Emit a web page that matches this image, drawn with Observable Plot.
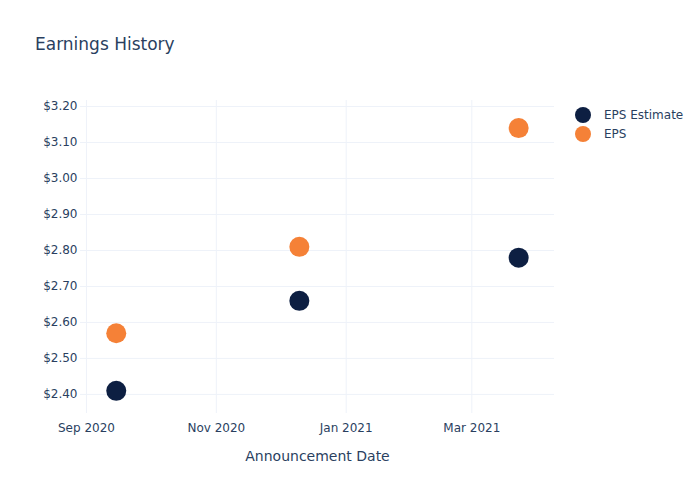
<!DOCTYPE html>
<html>
<head>
<meta charset="utf-8">
<script src="https://cdn.jsdelivr.net/npm/d3@7"></script>
<script src="https://cdn.jsdelivr.net/npm/@observablehq/plot@0.6"></script>
<style>
  body { margin: 0; background: #fff; }
  #wrap { position: relative; width: 700px; height: 500px; font-family: "DejaVu Sans", sans-serif; color: #2a3f5f; }
  #title { position: absolute; left: 35px; top: 36px; font-size: 17px; line-height: 17px; white-space: nowrap; }
  #legend { position: absolute; left: 575px; top: 105px; font-size: 12px; }
  .item { display: flex; align-items: center; height: 19px; }
  .sw { width: 16px; height: 16px; border-radius: 50%; margin-right: 13px; }
  g[aria-label="x-axis label"] text { font-size: 14px; }
</style>
</head>
<body>
<div id="wrap">
  <div id="title">Earnings History</div>
  <div id="legend"></div>
</div>
<script>
const dates = ["2020-09-15", "2020-12-10", "2021-03-23"];
const epsEstimate = [2.41, 2.66, 2.78];
const eps = [2.57, 2.81, 3.14];
const seriesNames = ["EPS Estimate", "EPS"];
const yTicks = [2.4, 2.5, 2.6, 2.7, 2.8, 2.9, 3.0, 3.1, 3.2];
const xTicks = ["2020-09-01", "2020-11-01", "2021-01-01", "2021-03-01"];

const palette = ["#0d1f42", "#f58137"];
const data = [];
seriesNames.forEach((s, i) => {
  const vals = i === 0 ? epsEstimate : eps;
  dates.forEach((d, j) => data.push({date: new Date(d), value: vals[j], series: s}));
});
const xTickDates = xTicks.map(d => new Date(d));

const chart = Plot.plot({
  width: 700,
  height: 500,
  marginLeft: 80,
  marginRight: 146,
  marginTop: 100,
  marginBottom: 87,
  style: {fontFamily: "DejaVu Sans, sans-serif", fontSize: "12px", color: "#2a3f5f", background: "#fff"},
  x: {type: "utc", domain: [new Date("2020-08-29T05:00Z"), new Date("2021-04-08T20:00Z")]},
  y: {domain: [2.347, 3.2167]},
  color: {domain: seriesNames, range: palette},
  marks: [
    Plot.gridY(yTicks, {stroke: "#EEF2F9", strokeOpacity: 1}),
    Plot.gridX(xTickDates, {stroke: "#EEF2F9", strokeOpacity: 1}),
    Plot.axisY(yTicks, {tickSize: 0, tickPadding: 3, tickFormat: d => "$" + d.toFixed(2), label: null}),
    Plot.axisX(xTickDates, {tickSize: 0, tickPadding: 10, tickFormat: d3.utcFormat("%b %Y"), label: "Announcement Date", labelAnchor: "center", labelArrow: "none", labelOffset: 47}),
    Plot.dot(data, {x: "date", y: "value", fill: "series", r: 10})
  ]
});
document.getElementById("wrap").prepend(chart);
chart.style.position = "absolute";
chart.style.left = "0";
chart.style.top = "0";

const legend = document.getElementById("legend");
seriesNames.forEach((s, i) => {
  const item = document.createElement("div");
  item.className = "item";
  const sw = document.createElement("div");
  sw.className = "sw";
  sw.style.background = palette[i];
  const t = document.createElement("span");
  t.textContent = s;
  item.append(sw, t);
  legend.append(item);
});
</script>
</body>
</html>
